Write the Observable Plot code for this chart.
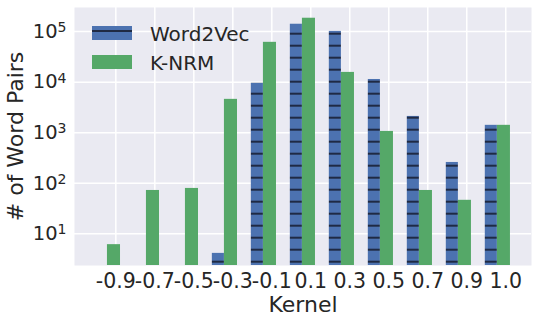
<!DOCTYPE html>
<html><head><meta charset="utf-8">
<script src="https://cdn.jsdelivr.net/npm/d3@7"></script>
<script src="https://cdn.jsdelivr.net/npm/@observablehq/plot@0.6"></script>
<style>
body{margin:0;background:#fff;font-family:"DejaVu Sans",sans-serif;}
#wrap{position:relative;width:538px;height:322px;}
.leg{position:absolute;left:92px;font-size:20px;color:#262626;font-family:"DejaVu Sans",sans-serif;}
.sw{position:absolute;left:0;width:40px;height:14px;}
.lt{position:absolute;left:58px;white-space:nowrap;line-height:1;}
</style></head><body><div id="wrap"></div>
<script>
const kernels = ["-0.9","-0.7","-0.5","-0.3","-0.1","0.1","0.3","0.5","0.7","0.9","1.0"];
const word2vec = [null, null, null, 4.1, 9500, 140000, 101000, 11300, 2100, 258, 1400];
const knrm = [6.1, 72, 79, 4570, 61400, 184000, 15600, 1060, 72, 46, 1400];
const yTicks = [10, 100, 1000, 10000, 100000];
const seriesNames = ["Word2Vec", "K-NRM"];

const BLUE = "#4C72B0", GREEN = "#55A868", HATCH = "#1f2a44", INK = "#262626";
const yMin = 2.36, yMax = 3.0e5;
const idx = kernels.map((_, i) => i);

const rows = [];
kernels.forEach((k, i) => {
  if (word2vec[i] != null) rows.push({i, series: seriesNames[0], value: word2vec[i], o1: -0.525, o2: -0.215});
  if (knrm[i] != null) rows.push({i, series: seriesNames[1], value: knrm[i], o1: -0.215, o2: 0.12});
});

const chart = Plot.plot({
  width: 538, height: 322,
  marginLeft: 74, marginRight: 7, marginTop: 7, marginBottom: 57,
  style: {fontFamily: "DejaVu Sans, sans-serif", color: INK, background: "white", overflow: "visible"},
  x: {type: "linear", domain: [-1.06, 10.66], axis: null},
  y: {type: "log", domain: [yMin, yMax], axis: null},
  marks: [
    Plot.frame({fill: "#EAEAF2", stroke: null}),
    Plot.gridX(idx, {stroke: "white", strokeOpacity: 1, strokeWidth: 1.5}),
    Plot.gridY(yTicks, {stroke: "white", strokeOpacity: 1, strokeWidth: 1.5}),
    Plot.rect(rows.filter(d => d.series === seriesNames[0]), {
      x1: d => d.i + d.o1, x2: d => d.i + d.o2, y1: yMin, y2: "value",
      fill: "url(#w2vhatch)", clip: true
    }),
    Plot.rect(rows.filter(d => d.series === seriesNames[1]), {
      x1: d => d.i + d.o1, x2: d => d.i + d.o2, y1: yMin, y2: "value",
      fill: GREEN, clip: true
    }),
    Plot.axisY(yTicks, {
      tickSize: 0, tickPadding: 8, fontSize: 19.5, fill: INK,
      tickFormat: d => "10^" + Math.round(Math.log10(d)),
      label: null
    }),
    Plot.axisX(idx, {
      tickSize: 0, tickPadding: 8, fontSize: 20.5, fill: INK,
      tickFormat: i => kernels[i],
      label: null
    }),
    Plot.text(["Kernel"], {frameAnchor: "bottom", dy: 46, fontSize: 22, fill: INK, lineAnchor: "bottom"}),
    Plot.text(["# of Word Pairs"], {frameAnchor: "left", dx: -59, rotate: -90, fontSize: 22, fill: INK, textAnchor: "middle", lineAnchor: "middle"})
  ]
});

// hatch pattern for Word2Vec bars
const svg = d3.select(chart);
const defs = svg.insert("defs", ":first-child");
const pat = defs.append("pattern").attr("id", "w2vhatch")
  .attr("patternUnits", "userSpaceOnUse").attr("width", 12).attr("height", 12);
pat.append("rect").attr("width", 12).attr("height", 12).attr("fill", BLUE);
pat.append("rect").attr("y", 8.7).attr("width", 12).attr("height", 2).attr("fill", HATCH);

// superscript exponents on y tick labels
svg.selectAll("g[aria-label='y-axis tick label'] text").each(function() {
  const t = d3.select(this);
  const s = t.text();
  if (s.includes("^")) {
    const [b, e] = s.split("^");
    t.text(b);
    t.append("tspan").attr("dy", "-0.42em").attr("font-size", "0.72em").text(e);
  }
});

const wrap = document.getElementById("wrap");
wrap.appendChild(chart);

// legend
const leg = document.createElement("div");
leg.className = "leg";
leg.style.top = "0px";
const items = [
  {name: seriesNames[0], color: BLUE, hatch: true, top: 26},
  {name: seriesNames[1], color: GREEN, hatch: false, top: 55}
];
items.forEach(it => {
  const sw = document.createElement("div");
  sw.className = "sw";
  sw.style.top = it.top + "px";
  sw.style.background = it.hatch
    ? `linear-gradient(${it.color} 0 4px, ${HATCH} 4px 6px, ${it.color} 6px 100%)`
    : it.color;
  leg.appendChild(sw);
  const lt = document.createElement("div");
  lt.className = "lt";
  lt.style.top = (it.top - 2) + "px";
  lt.textContent = it.name;
  leg.appendChild(lt);
});
wrap.appendChild(leg);
</script></body></html>
